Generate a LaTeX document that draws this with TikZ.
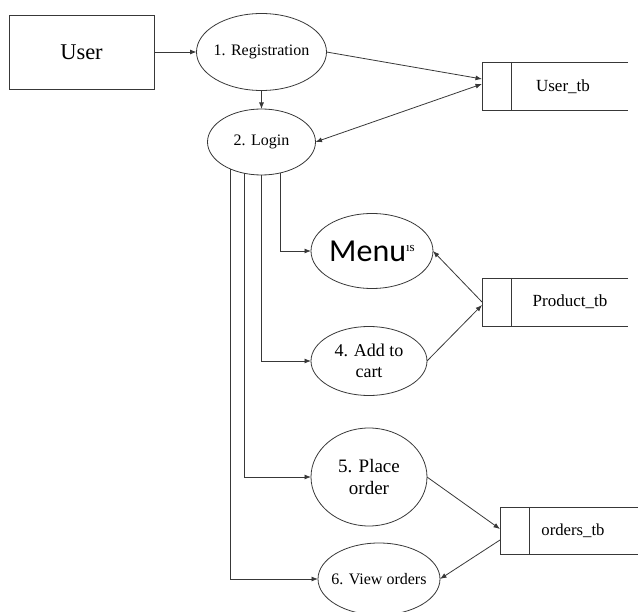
\documentclass[tikz,border=0pt]{standalone}
\usepackage{fontspec}
\setmainfont{Liberation Serif}
\newfontfamily\menufont{Carlito}
\usetikzlibrary{arrows.meta,shapes.geometric,calc}
\newcommand{\fsz}[1]{\fontsize{#1}{#1}\selectfont}
\begin{document}
\begin{tikzpicture}[x=1pt,y=-1pt,
  line/.style={draw=black!78, line width=0.8pt},
  flow/.style={line, -{Latex[length=6.5pt,width=5pt]}},
  both/.style={line, {Latex[length=6.5pt,width=5pt]}-{Latex[length=6.5pt,width=5pt]}},
  proc/.style={ellipse, line, inner sep=-22pt, outer sep=0pt, align=center},
  storebox/.style={rectangle, inner sep=0pt, outer sep=0pt, minimum height=48pt},
  lbl/.style={inner sep=0pt, font=\fsz{17}}
]
\useasboundingbox (0,0) rectangle (638,612);

% external entity
\node[rectangle, line, minimum width=145pt, minimum height=74pt, font=\fsz{22.5}] (user) at (81.5,52) {User};

% processes
\node[proc, minimum width=130pt, minimum height=77pt, font=\fsz{16}] (reg) at (261.5,52) {1. Registration};
\node[proc, minimum width=108pt, minimum height=66pt, font=\fsz{16}] (login) at (261.5,142) {2. Login};
\node[proc, minimum width=122pt, minimum height=75pt] (menu) at (372,251)
  {{\menufont\fsz{32}Menu}{\fsz{13}\raisebox{10pt}{ıs}}};
\node[proc, minimum width=116pt, minimum height=69pt, font=\fontsize{18}{21}\selectfont] (cart) at (369,361) {4. Add to\\cart};
\node[proc, minimum width=116pt, minimum height=98pt, font=\fontsize{19}{22}\selectfont] (place) at (369,477) {5. Place\\order};
\node[proc, minimum width=122pt, minimum height=72pt, font=\fsz{16}] (view) at (379,579) {6. View orders};

% data stores (open on the right)
\node[storebox, minimum width=146pt] (utb) at (555,86) {};
\node[storebox, minimum width=146pt] (ptb) at (555,302) {};
\node[storebox, minimum width=140pt, minimum height=47pt] (otb) at (570,530.5) {};
\foreach \s in {utb,ptb,otb}{
  \draw[line] (\s.north east) -- (\s.north west) -- (\s.south west) -- (\s.south east);
  \draw[line] ($(\s.north west)+(29,0)$) -- ($(\s.south west)+(29,0)$);
}
\node[lbl] (utbl) at (563,87) {User\_tb};
\node[lbl] (ptbl) at (570,302) {Product\_tb};
\node[lbl, font=\fsz{16.7}] (otbl) at (573,531) {orders\_tb};

% flows
\draw[flow] (user.east) -- (reg.west);
\draw[flow] (reg.south) -- (login.north);
\draw[flow] (reg.east) -- ($(utb.west)+(0,-7)$);
\draw[both] (login.east) -- ($(utb.west)+(0,-2)$);

\draw[flow] (login.301.6) |- (menu.west);
\draw[flow] (login.270) |- (cart.west);
\draw[flow] (login.241.5) |- (place.west);
\draw[flow] (login.221) |- (view.west);

\draw[flow] (ptb.west) -- (menu.east);
\draw[flow] (cart.east) -- ($(ptb.west)+(0,3)$);
\draw[flow] (place.east) -- ($(otb.west)+(0,-1.5)$);
\draw[flow] ($(otb.west)+(0,9.5)$) -- (view.east);
\end{tikzpicture}
\end{document}
